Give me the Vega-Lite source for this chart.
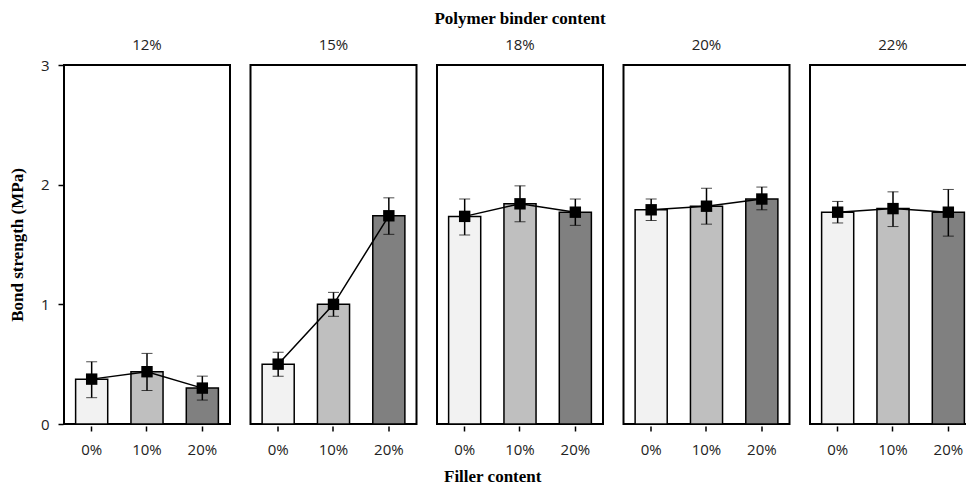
{
  "$schema": "https://vega.github.io/schema/vega-lite/v6.json",
  "background": "white",
  "padding": {"left": 8, "top": 10, "right": 0, "bottom": 0},
  "title": {
    "text": "Filler content", "orient": "bottom", "anchor": "middle",
    "font": "Liberation Serif", "fontSize": 17, "fontWeight": "bold", "color": "black", "offset": 12
  },
  "data": {"values": [
    {"binder": "12%", "filler": "0%", "mean": 0.375, "lo": 0.22, "hi": 0.52},
    {"binder": "12%", "filler": "10%", "mean": 0.437, "lo": 0.28, "hi": 0.59},
    {"binder": "12%", "filler": "20%", "mean": 0.30, "lo": 0.20, "hi": 0.40},
    {"binder": "15%", "filler": "0%", "mean": 0.50, "lo": 0.40, "hi": 0.60},
    {"binder": "15%", "filler": "10%", "mean": 1.00, "lo": 0.90, "hi": 1.10},
    {"binder": "15%", "filler": "20%", "mean": 1.74, "lo": 1.585, "hi": 1.89},
    {"binder": "18%", "filler": "0%", "mean": 1.735, "lo": 1.58, "hi": 1.88},
    {"binder": "18%", "filler": "10%", "mean": 1.84, "lo": 1.69, "hi": 1.99},
    {"binder": "18%", "filler": "20%", "mean": 1.77, "lo": 1.66, "hi": 1.88},
    {"binder": "20%", "filler": "0%", "mean": 1.79, "lo": 1.70, "hi": 1.88},
    {"binder": "20%", "filler": "10%", "mean": 1.82, "lo": 1.67, "hi": 1.97},
    {"binder": "20%", "filler": "20%", "mean": 1.88, "lo": 1.79, "hi": 1.98},
    {"binder": "22%", "filler": "0%", "mean": 1.77, "lo": 1.68, "hi": 1.86},
    {"binder": "22%", "filler": "10%", "mean": 1.80, "lo": 1.65, "hi": 1.94},
    {"binder": "22%", "filler": "20%", "mean": 1.77, "lo": 1.57, "hi": 1.96}
  ]},
  "facet": {
    "column": {
      "field": "binder", "type": "nominal", "sort": ["12%", "15%", "18%", "20%", "22%"],
      "title": "Polymer binder content",
      "header": {
        "titleFont": "Liberation Serif", "titleFontSize": 17, "titleFontWeight": "bold", "titleColor": "black",
        "titlePadding": 0,
        "labelFont": "Open Sans", "labelFontSize": 15, "labelColor": "#222", "labelPadding": 11
      }
    }
  },
  "spacing": 18.5,
  "spec": {
    "width": 166,
    "height": 359,
    "encoding": {
      "x": {
        "field": "filler", "type": "nominal", "sort": ["0%", "10%", "20%"],
        "scale": {"paddingInner": 0.42, "paddingOuter": 0.21},
        "axis": {
          "title": null, "labelAngle": 0,
          "labelFont": "Open Sans", "labelFontSize": 15, "labelColor": "#222", "labelPadding": 11,
          "domain": false,
          "ticks": true, "tickColor": "black", "tickSize": 5, "tickWidth": 1.5
        }
      }
    },
    "layer": [
      {
        "mark": {"type": "bar", "stroke": "black", "strokeWidth": 1.5},
        "encoding": {
          "y": {
            "field": "mean", "type": "quantitative",
            "scale": {"domain": [0, 3], "nice": false},
            "axis": {
              "title": "Bond strength (MPa)", "values": [0, 1, 2, 3], "format": "d", "grid": false,
              "titleFont": "Liberation Serif", "titleFontSize": 17, "titleFontWeight": "bold", "titleColor": "black",
              "titlePadding": 14,
              "labelFont": "Open Sans", "labelFontSize": 15, "labelColor": "#222", "labelPadding": 9,
              "domain": false, "ticks": true, "tickColor": "black", "tickSize": 5, "tickWidth": 1.5
            }
          },
          "fill": {
            "field": "filler", "type": "nominal",
            "scale": {"domain": ["0%", "10%", "20%"], "range": ["#f2f2f2", "#bfbfbf", "#808080"]},
            "legend": null
          }
        }
      },
      {
        "mark": {"type": "line", "color": "black", "strokeWidth": 1.5},
        "encoding": {"y": {"field": "mean", "type": "quantitative"}}
      },
      {
        "mark": {"type": "errorbar", "ticks": {"size": 11, "color": "black", "strokeWidth": 1.5}, "rule": {"color": "black", "strokeWidth": 1.5}},
        "encoding": {
          "y": {"field": "lo", "type": "quantitative", "title": "Bond strength (MPa)"},
          "y2": {"field": "hi"}
        }
      },
      {
        "mark": {"type": "square", "color": "black", "opacity": 1, "size": 130},
        "encoding": {"y": {"field": "mean", "type": "quantitative"}}
      }
    ]
  },
  "config": {
    "view": {"stroke": "black", "strokeWidth": 2}
  }
}
